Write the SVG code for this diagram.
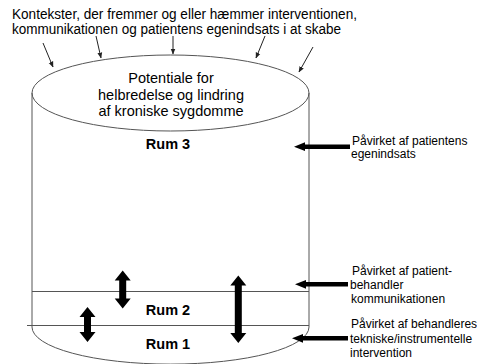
<svg xmlns="http://www.w3.org/2000/svg" width="477" height="364" viewBox="0 0 477 364">
<style>
  .t { font-family: "Liberation Sans", Arial, sans-serif; fill: #000; }
  .top { font-size: 14px; }
  .mid { font-size: 14.5px; text-anchor: middle; }
  .rum { font-size: 14.5px; font-weight: bold; text-anchor: middle; }
  .side { font-size: 12px; }
  .cyl { fill: none; stroke: #555; stroke-width: 1; }
  .thin { stroke: #222; stroke-width: 1; fill: none; marker-end: url(#ah); }
  .block { fill: #000; stroke: none; }
</style>
<defs>
  <marker id="ah" viewBox="0 0 10 10" refX="9" refY="5" markerWidth="6" markerHeight="6" markerUnits="userSpaceOnUse" orient="auto">
    <path d="M0,1 L10,5 L0,9 Z" fill="#222"/>
  </marker>
</defs>
<rect width="477" height="364" fill="#fff"/>

<g id="context-text">
  <text class="t top" x="12" y="19" textLength="345" lengthAdjust="spacingAndGlyphs">Kontekster, der fremmer og eller hæmmer interventionen,</text>
  <text class="t top" x="12" y="34" textLength="329" lengthAdjust="spacingAndGlyphs">kommunikationen og patientens egenindsats i at skabe</text>
</g>

<g id="cylinder">
  <line class="cyl" x1="32" y1="93" x2="32" y2="327"/>
  <line class="cyl" x1="309" y1="93" x2="309" y2="327"/>
  <path class="cyl" d="M32,327 A138,37 0 0 0 309,327"/>
  <ellipse class="cyl" cx="170.5" cy="93" rx="138.5" ry="38"/>
  <line class="cyl" x1="32" y1="291.5" x2="309" y2="291.5"/>
  <line class="cyl" x1="27" y1="325.5" x2="309" y2="325.5"/>
</g>

<g id="potentiale">
  <text class="t mid" x="171" y="83">Potentiale for</text>
  <text class="t mid" x="171" y="99.5">helbredelse og lindring</text>
  <text class="t mid" x="171" y="116">af kroniske sygdomme</text>
</g>

<g id="rum3"><text class="t rum" x="168" y="149">Rum 3</text></g>
<g id="rum2"><text class="t rum" x="168" y="315">Rum 2</text></g>
<g id="rum1"><text class="t rum" x="168" y="349">Rum 1</text></g>

<g id="label-rum3">
  <text class="t side" x="352" y="145">Påvirket af patientens</text>
  <text class="t side" x="351" y="158">egenindsats</text>
</g>
<g id="label-rum2">
  <text class="t side" x="352" y="275">Påvirket af patient-</text>
  <text class="t side" x="350" y="289">behandler</text>
  <text class="t side" x="351" y="302.5">kommunikationen</text>
</g>
<g id="label-rum1">
  <text class="t side" x="351" y="328">Påvirket af behandleres</text>
  <text class="t side" x="350" y="342.5">tekniske/instrumentelle</text>
  <text class="t side" x="350" y="356.5">intervention</text>
</g>

<g id="connectors">
  <line class="thin" x1="43" y1="43" x2="53" y2="67"/>
  <line class="thin" x1="96" y1="36" x2="101" y2="58"/>
  <line class="thin" x1="173" y1="36" x2="173" y2="54"/>
  <line class="thin" x1="265" y1="36" x2="256" y2="58"/>
  <line class="thin" x1="313" y1="47" x2="299" y2="72"/>

  <path class="block" d="M294,146.7 L305,142.3 L305,144.5 L350,144.5 L350,149 L305,149 L305,151.1 Z"/>
  <path class="block" d="M295,284.3 L306,279.9 L306,282.1 L348,282.1 L348,286.6 L306,286.6 L306,288.7 Z"/>
  <path class="block" d="M292,338.3 L303,333.9 L303,336.1 L348,336.1 L348,340.6 L303,340.6 L303,342.7 Z"/>

  <path class="block" d="M122.7,270.5 L130.7,280.5 L126.2,280.5 L126.2,298.5 L130.7,298.5 L122.7,308.5 L114.7,298.5 L119.2,298.5 L119.2,280.5 L114.7,280.5 Z"/>
  <path class="block" d="M87.5,307 L95.5,317 L91,317 L91,332 L95.5,332 L87.5,342 L79.5,332 L84,332 L84,317 L79.5,317 Z"/>
  <path class="block" d="M238.3,275.5 L246.3,285.5 L241.8,285.5 L241.8,333 L246.3,333 L238.3,343 L230.3,333 L234.8,333 L234.8,285.5 L230.3,285.5 Z"/>
</g>
</svg>
